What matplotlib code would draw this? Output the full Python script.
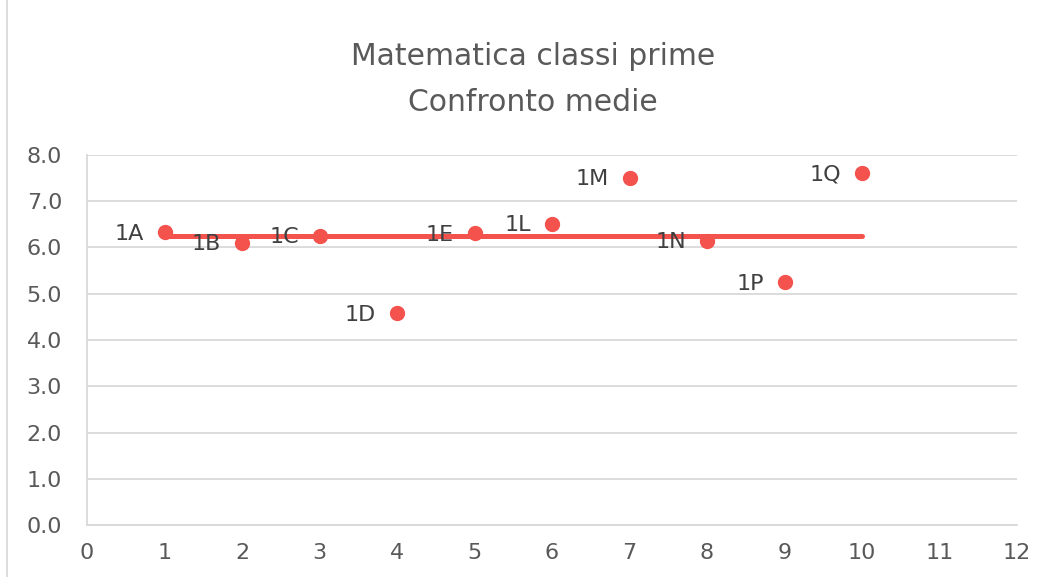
import matplotlib
matplotlib.use("Agg")
from matplotlib import pyplot as plt
from matplotlib.lines import Line2D

# data
classes = ["1A", "1B", "1C", "1D", "1E", "1L", "1M", "1N", "1P", "1Q"]
xs = [1, 2, 3, 4, 5, 6, 7, 8, 9, 10]
medie = [6.33, 6.10, 6.25, 4.58, 6.31, 6.51, 7.50, 6.14, 5.25, 7.61]
media_gen = [6.25] * len(xs)

red = "#F4524D"
txt = "#404040"
grid = "#D9D9D9"

fig = plt.figure(figsize=(10.46, 5.77), dpi=100)
ax = fig.add_axes([0.0832, 0.0901, 0.8891, 0.6413])

ax.plot(xs, media_gen, color=red, lw=3.6, solid_capstyle="round", zorder=2)
ax.plot(xs, medie, "o", color=red, ms=10, zorder=3)

for x, y, lab in zip(xs, medie, classes):
    ax.annotate(lab, (x, y), xytext=(-15, -1), textcoords="offset points",
                ha="right", va="center", fontsize=16, color=txt)

ax.set_xlim(0, 12)
ax.set_ylim(0, 8)
ax.set_xticks(range(0, 13))
ax.set_yticks([i for i in range(0, 9)])
ax.set_yticklabels(["%.1f" % i for i in range(0, 9)])
ax.yaxis.grid(True, color=grid, lw=1.3)
ax.set_axisbelow(True)
for s in ["top", "right"]:
    ax.spines[s].set_visible(False)
ax.spines["left"].set_color(grid)
ax.spines["bottom"].set_color(grid)
ax.spines["left"].set_linewidth(1.3)
ax.spines["bottom"].set_linewidth(1.3)
ax.tick_params(length=0, colors="#595959")
ax.tick_params(axis="y", pad=18)
ax.tick_params(axis="x", pad=13)
for t in ax.get_yticklabels():
    t.set_fontsize(16)
for t in ax.get_xticklabels():
    t.set_fontsize(16)

fig.text(0.5096, 0.902, "Matematica classi prime", ha="center", va="center",
         fontsize=21.5, color="#595959")
fig.text(0.5096, 0.823, "Confronto medie", ha="center", va="center",
         fontsize=21.5, color="#595959")

# outer chart frame
fig.add_artist(Line2D([0.007, 0.007], [0, 1], transform=fig.transFigure,
                      color=grid, lw=1.3))

fig.savefig("out.png", dpi=100)
